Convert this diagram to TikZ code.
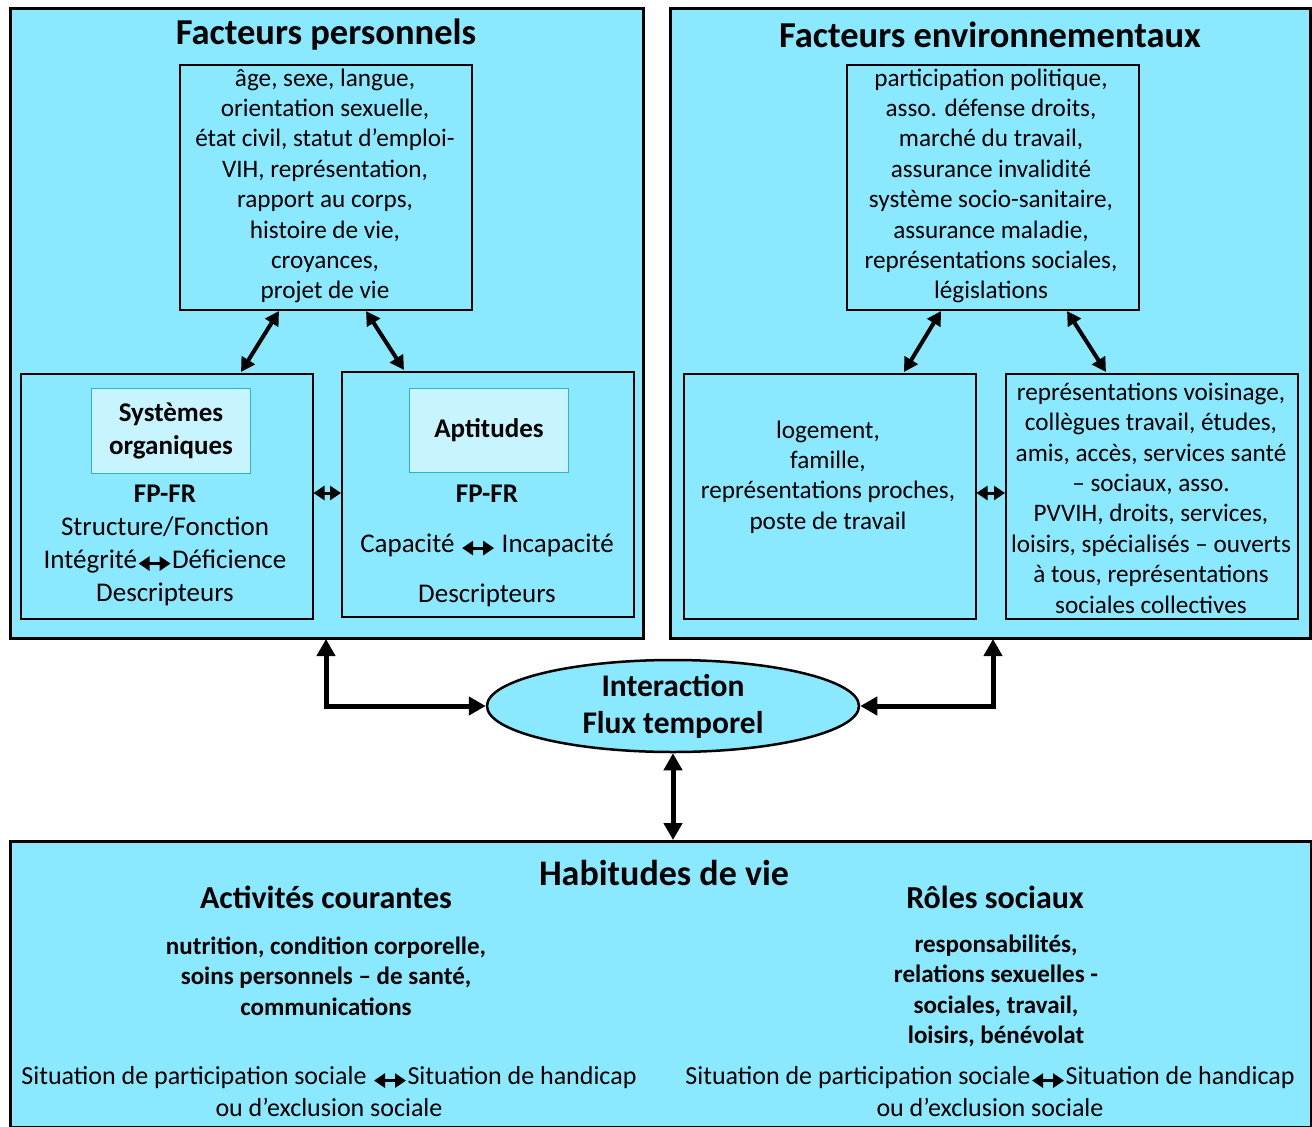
\documentclass[tikz,border=0pt]{standalone}
\usepackage{fontspec}
\setmainfont{Carlito}
\usetikzlibrary{arrows.meta,shapes.geometric,calc}
\definecolor{boxcyan}{HTML}{8AE8FF}
\definecolor{lightcyan}{HTML}{C8F4FF}
\definecolor{tealedge}{HTML}{2BB5CC}
\newcommand{\dblarrow}{\tikz[baseline=-0.35ex]\draw[line width=3pt,{Triangle[length=11pt,width=14pt]}-{Triangle[length=11pt,width=14pt]}](0pt,0pt)--(32pt,0pt);}
\begin{document}
\begin{tikzpicture}[x=1pt,y=-1pt,
  outer/.style={draw=black,line width=3pt,fill=boxcyan,anchor=north west,inner sep=0pt},
  inbox/.style={draw=black,line width=1.5pt,fill=boxcyan,anchor=north west,inner sep=0pt,minimum width=292pt,minimum height=245pt},
  titlebox/.style={draw=tealedge,line width=1pt,fill=lightcyan,anchor=north west,inner sep=0pt,align=center,minimum width=159pt,minimum height=85pt,font=\fontsize{27}{33}\selectfont\bfseries},
  body/.style={align=center,font=\fontsize{25.2}{30.4}\selectfont,inner sep=0pt},
  bigtitle/.style={inner sep=0pt,font=\fontsize{36.5}{40}\selectfont\bfseries},
  subtitle/.style={inner sep=0pt,font=\fontsize{32}{36}\selectfont\bfseries},
  boldbody/.style={align=center,inner sep=0pt,font=\fontsize{25}{30.5}\selectfont\bfseries},
  bigarrow/.style={line width=5pt,{Triangle[length=17pt,width=18pt]}-{Triangle[length=17pt,width=18pt]}},
  midarrow/.style={line width=4pt,{Triangle[length=14pt,width=15pt]}-{Triangle[length=14pt,width=15pt]}},
  smallarrow/.style={line width=3pt,{Triangle[length=11pt,width=14pt]}-{Triangle[length=11pt,width=14pt]}}
]
\useasboundingbox (0,0) rectangle (1312,1127);
\fill[white] (0,0) rectangle (1312,1127);

% outer boxes
\node[outer,minimum width=633pt,minimum height=630pt] (lout) at (9,7) {};
\node[outer,minimum width=640pt,minimum height=630pt] (rout) at (669,7) {};
\node[outer,minimum width=1301pt,minimum height=286pt] (bout) at (9,840) {};

\node[bigtitle] (ltitle) at (326,35) {Facteurs personnels};
\node[bigtitle] (rtitle) at (990,35) {Facteurs environnementaux};

% left inner boxes
\node[inbox,body] (tl) at (179,64) {};
\node[body] (tltext) at (325,186) {âge, sexe, langue,\\orientation sexuelle,\\état civil, statut d’emploi-\\VIH, représentation,\\rapport au corps,\\histoire de vie,\\croyances,\\projet de vie};
\node[inbox] (sys) at (20,373) {};
\node[inbox] (apt) at (341,371) {};
\node[titlebox] (sysT) at (91,388) {Systèmes\\organiques};
\node[titlebox,minimum height=84pt] (aptT) at (409,388) {Aptitudes};
\node[body,font=\fontsize{27}{33}\selectfont] (systext) at (165,545) {\textbf{FP-FR}\\Structure/Fonction\\Intégrité\dblarrow Déficience\\Descripteurs};
\node[body,font=\fontsize{27}{50}\selectfont] (apttext) at (487,546) {\textbf{FP-FR}\\Capacité \dblarrow\ Incapacité\\Descripteurs};

% right inner boxes
\node[inbox] (tr) at (846,64) {};
\node[body] (trtext) at (991,186) {participation politique,\\asso. défense droits,\\marché du travail,\\assurance invalidité\\système socio-sanitaire,\\assurance maladie,\\représentations sociales,\\législations};
\node[inbox] (loge) at (683,373) {};
\node[inbox] (reps) at (1005,373) {};
\node[body] (logetext) at (828,477) {logement,\\famille,\\représentations proches,\\poste de travail};
\node[body] (repstext) at (1151,498) {représentations voisinage,\\collègues travail, études,\\amis, accès, services santé\\– sociaux, asso.\\PVVIH, droits, services,\\loisirs, spécialisés – ouverts\\à tous, représentations\\sociales collectives};

% ellipse
\node[ellipse,draw=black,line width=2.5pt,fill=boxcyan,minimum width=372pt,minimum height=92pt,inner sep=0pt,align=center,font=\fontsize{31.5}{37}\selectfont\bfseries] (ell) at (673,706) {Interaction\\Flux temporel};

% bottom
\node[bigtitle,font=\fontsize{36}{40}\selectfont\bfseries] (btitle) at (664,873) {Habitudes de vie};
\node[subtitle] (act) at (326,897) {Activités courantes};
\node[subtitle] (roles) at (995,897) {Rôles sociaux};
\node[boldbody] (acttext) at (326,976) {nutrition, condition corporelle,\\soins personnels – de santé,\\communications};
\node[boldbody] (rolestext) at (996,991) {responsabilités,\\relations sexuelles -\\sociales, travail,\\loisirs, bénévolat};
\node[body,font=\fontsize{26}{32}\selectfont] (sitl) at (329,1092) {Situation de participation sociale \dblarrow Situation de handicap\\ou d’exclusion sociale};
\node[body,font=\fontsize{26}{32}\selectfont] (sitr) at (990,1092) {Situation de participation sociale\dblarrow Situation de handicap\\ou d’exclusion sociale};

% coordinates for connectors
\coordinate (tlA) at (279,311);
\coordinate (sysA) at (241,372);
\coordinate (tlB) at (366,311);
\coordinate (aptA) at (404,370);
\coordinate (trA) at (941,311);
\coordinate (logeA) at (904,372);
\coordinate (trB) at (1067,311);
\coordinate (repsA) at (1106,372);
\coordinate (lfoot) at (326,639);
\coordinate (rfoot) at (993,639);

% connectors
\draw[midarrow] (tlA) -- (sysA);
\draw[midarrow] (tlB) -- (aptA);
\draw[midarrow] (trA) -- (logeA);
\draw[midarrow] (trB) -- (repsA);
\draw[smallarrow] (sys.east |- 0,493) -- (apt.west |- 0,493);
\draw[smallarrow] (loge.east |- 0,493) -- (reps.west |- 0,493);
\draw[bigarrow] (lfoot) |- (ell.west);
\draw[bigarrow] (rfoot) |- (ell.east);
\draw[bigarrow] (ell.south) -- (ell.south |- bout.north);
\end{tikzpicture}
\end{document}
